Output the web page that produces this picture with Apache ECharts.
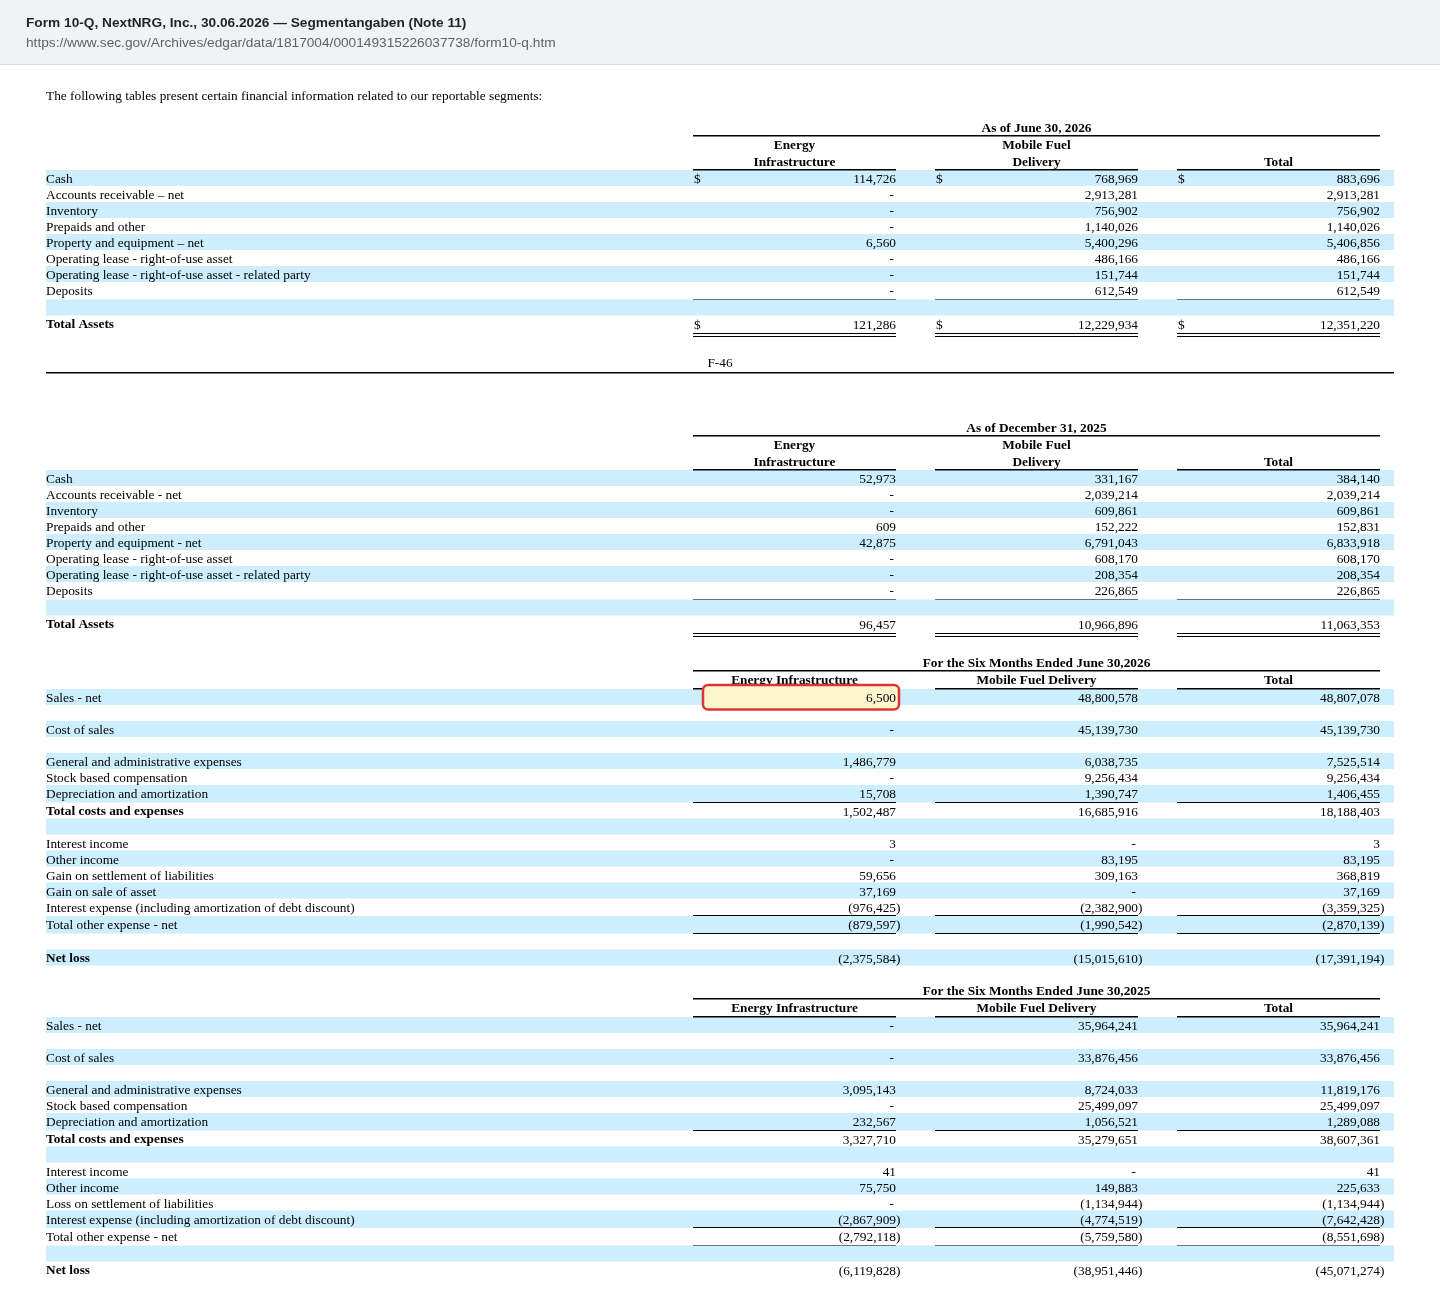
<!DOCTYPE html>
<html><head><meta charset="utf-8">
<script src="https://cdn.jsdelivr.net/npm/echarts@6/dist/echarts.min.js"></script>
<style>html,body{margin:0;padding:0;background:#fff}#c{width:1440px;height:1306px}</style>
</head><body><div id="c"></div>
<script>
// ---------- texts ----------
const docTitle = "Form 10-Q, NextNRG, Inc., 30.06.2026 \u2014 Segmentangaben (Note 11)";
const docUrl = "https://www.sec.gov/Archives/edgar/data/1817004/000149315226037738/form10-q.htm";
const introText = "The following tables present certain financial information related to our reportable segments:";
const pageFooter = "F-46";
const periods = ["As of June 30, 2026", "As of December 31, 2025", "For the Six Months Ended June 30,2026", "For the Six Months Ended June 30,2025"];
const balanceHeads = [["Energy", "Infrastructure"], ["Mobile Fuel", "Delivery"], ["Total"]];
const segmentHeads = [["Energy Infrastructure"], ["Mobile Fuel Delivery"], ["Total"]];

// ---------- balance sheet, June 30, 2026 ----------
const labelsBS2026 = ["Cash", "Accounts receivable \u2013 net", "Inventory", "Prepaids and other", "Property and equipment \u2013 net", "Operating lease - right-of-use asset", "Operating lease - right-of-use asset - related party", "Deposits", "", "Total Assets"];
const energyBS2026 = [114726, 0, 0, 0, 6560, 0, 0, 0, null, 121286];
const mobileBS2026 = [768969, 2913281, 756902, 1140026, 5400296, 486166, 151744, 612549, null, 12229934];
const totalBS2026 = [883696, 2913281, 756902, 1140026, 5406856, 486166, 151744, 612549, null, 12351220];

// ---------- balance sheet, December 31, 2025 ----------
const labelsBS2025 = ["Cash", "Accounts receivable - net", "Inventory", "Prepaids and other", "Property and equipment - net", "Operating lease - right-of-use asset", "Operating lease - right-of-use asset - related party", "Deposits", "", "Total Assets"];
const energyBS2025 = [52973, 0, 0, 609, 42875, 0, 0, 0, null, 96457];
const mobileBS2025 = [331167, 2039214, 609861, 152222, 6791043, 608170, 208354, 226865, null, 10966896];
const totalBS2025 = [384140, 2039214, 609861, 152831, 6833918, 608170, 208354, 226865, null, 11063353];

// ---------- six months ended June 30, 2026 ----------
const labelsIS2026 = ["Sales - net", "", "Cost of sales", "", "General and administrative expenses", "Stock based compensation", "Depreciation and amortization", "Total costs and expenses", "", "Interest income", "Other income", "Gain on settlement of liabilities", "Gain on sale of asset", "Interest expense (including amortization of debt discount)", "Total other expense - net", "", "Net loss"];
const energyIS2026 = [6500, null, 0, null, 1486779, 0, 15708, 1502487, null, 3, 0, 59656, 37169, -976425, -879597, null, -2375584];
const mobileIS2026 = [48800578, null, 45139730, null, 6038735, 9256434, 1390747, 16685916, null, 0, 83195, 309163, 0, -2382900, -1990542, null, -15015610];
const totalIS2026 = [48807078, null, 45139730, null, 7525514, 9256434, 1406455, 18188403, null, 3, 83195, 368819, 37169, -3359325, -2870139, null, -17391194];

// ---------- six months ended June 30, 2025 ----------
const labelsIS2025 = ["Sales - net", "", "Cost of sales", "", "General and administrative expenses", "Stock based compensation", "Depreciation and amortization", "Total costs and expenses", "", "Interest income", "Other income", "Loss on settlement of liabilities", "Interest expense (including amortization of debt discount)", "Total other expense - net", "", "Net loss"];
const energyIS2025 = [0, null, 0, null, 3095143, 0, 232567, 3327710, null, 41, 75750, 0, -2867909, -2792118, null, -6119828];
const mobileIS2025 = [35964241, null, 33876456, null, 8724033, 25499097, 1056521, 35279651, null, 0, 149883, -1134944, -4774519, -5759580, null, -38951446];
const totalIS2025 = [35964241, null, 33876456, null, 11819176, 25499097, 1289088, 38607361, null, 41, 225633, -1134944, -7642428, -8551698, null, -45071274];

// highlighted cell: [table, row, column]
const highlightCell = [2, 0, 0];

// ---------- assembled tables ----------
const tables = [
  { period: periods[0], heads: balanceHeads, labels: labelsBS2026, cols: [energyBS2026, mobileBS2026, totalBS2026] },
  { period: periods[1], heads: balanceHeads, labels: labelsBS2025, cols: [energyBS2025, mobileBS2025, totalBS2025] },
  { period: periods[2], heads: segmentHeads, labels: labelsIS2026, cols: [energyIS2026, mobileIS2026, totalIS2026] },
  { period: periods[3], heads: segmentHeads, labels: labelsIS2025, cols: [energyIS2025, mobileIS2025, totalIS2025] }
];

// ---------- layout (positions / styles) ----------
const LAYOUT = {
  left: 46, right: 1394,
  colL: [693, 935, 1177], colR: [896, 1138, 1380],
  rowH: 16, lineRowH: 17.5, doubleRowH: 22,
  shade: '#cceeff',
  serif: '"Liberation Serif", "Times New Roman", serif',
  fs: 13.33,
  dy: 1.5
};
const tableStyle = [
  { top: 127, twoLine: true, dollarRows: [0, 9], boldRows: [9], lineRows: [7], doubleRows: [9] },
  { top: 427, twoLine: true, dollarRows: [], boldRows: [9], lineRows: [7], doubleRows: [9] },
  { top: 662, twoLine: false, dollarRows: [], boldRows: [7, 16], lineRows: [6, 13, 14], doubleRows: [] },
  { top: 990, twoLine: false, dollarRows: [], boldRows: [7, 15], lineRows: [6, 12, 13], doubleRows: [] }
];
function rowsStart(t) { const s = tableStyle[t]; return s.top + (s.twoLine ? 43 : 27); }
function rowGeom(t) {
  const s = tableStyle[t];
  let y = rowsStart(t);
  const g = [];
  tables[t].labels.forEach((_, r) => {
    let h = LAYOUT.rowH;
    if (s.doubleRows.includes(r)) h = LAYOUT.doubleRowH;
    else if (s.lineRows.includes(r)) h = LAYOUT.lineRowH;
    g.push({ top: y, h: h });
    y += h;
  });
  return g;
}
const geoms = tables.map((_, t) => rowGeom(t));

function font(bold) { return (bold ? 'bold ' : '') + LAYOUT.fs + 'px ' + LAYOUT.serif; }
function txt(p, s, align, bold) {
  return {
    type: 'text', x: p[0], y: p[1] + LAYOUT.dy,
    style: { text: s, fill: '#000', font: font(bold), align: align, verticalAlign: 'middle', textAlign: align, textVerticalAlign: 'middle' }
  };
}
// crisp horizontal rule drawn as a filled rect
function hline(p1, p2, w) {
  const y = Math.round(p1[1] - w / 2);
  return { type: 'rect', shape: { x: Math.round(p1[0]), y: y, width: Math.round(p2[0] - p1[0]), height: w }, style: { fill: '#000' } };
}

// data for series
const headerData = tables.map((_, t) => [t]);
const rowData = [];
tables.forEach((tb, t) => tb.labels.forEach((_, r) => rowData.push([t, r])));

function renderHeader(params, api) {
  const t = api.value(0);
  const s = tableStyle[t], tb = tables[t];
  const C = (x, y) => api.coord([x, y]);
  const ch = [];
  ch.push(txt(C((LAYOUT.colL[0] + LAYOUT.colR[2]) / 2, s.top), tb.period, 'center', true));
  ch.push(hline(C(LAYOUT.colL[0], s.top + 9), C(LAYOUT.colR[2], s.top + 9), 1.5));
  const ul = rowsStart(t) - 0.5;
  const lastLineY = s.twoLine ? s.top + 34 : s.top + 17;
  tb.heads.forEach((lines, c) => {
    const cx = (LAYOUT.colL[c] + LAYOUT.colR[c]) / 2;
    lines.forEach((ln, i) => {
      const y = lastLineY - (lines.length - 1 - i) * 17;
      ch.push(txt(C(cx, y), ln, 'center', true));
    });
    ch.push(hline(C(LAYOUT.colL[c], ul), C(LAYOUT.colR[c], ul), 1.5));
  });
  return { type: 'group', children: ch };
}

function renderRow(params, api) {
  const t = api.value(0), r = api.value(1);
  const s = tableStyle[t], tb = tables[t], g = geoms[t][r];
  const C = (x, y) => api.coord([x, y]);
  const ch = [];
  if (r % 2 === 0) {
    const a = C(LAYOUT.left, g.top), b = C(LAYOUT.right, g.top + g.h);
    ch.push({ type: 'rect', shape: { x: a[0], y: a[1], width: b[0] - a[0], height: b[1] - a[1] }, style: { fill: LAYOUT.shade } });
  }
  const ty = g.top + 8;
  const bold = s.boldRows.includes(r);
  if (tb.labels[r]) ch.push(txt(C(LAYOUT.left, ty), tb.labels[r], 'left', bold));
  tb.cols.forEach((col, c) => {
    const v = col[r];
    if (v !== null && v !== undefined) {
      if (s.dollarRows.includes(r)) ch.push(txt(C(LAYOUT.colL[c] + 1, ty), '$', 'left', false));
      if (v === 0) ch.push(txt(C(LAYOUT.colR[c] - 2, ty), '-', 'right', false));
      else {
        const n = Math.abs(v).toLocaleString('en-US');
        if (v < 0) {
          ch.push(txt(C(LAYOUT.colR[c], ty), '(' + n, 'right', false));
          ch.push(txt(C(LAYOUT.colR[c], ty), ')', 'left', false));
        } else ch.push(txt(C(LAYOUT.colR[c], ty), n, 'right', false));
      }
    }
    if (s.lineRows.includes(r) && !s.doubleRows.includes(r)) {
      ch.push(hline(C(LAYOUT.colL[c], g.top + 17), C(LAYOUT.colR[c], g.top + 17), 1));
    }
    if (s.doubleRows.includes(r)) {
      ch.push(hline(C(LAYOUT.colL[c], g.top + 18), C(LAYOUT.colR[c], g.top + 18), 1));
      ch.push(hline(C(LAYOUT.colL[c], g.top + 21), C(LAYOUT.colR[c], g.top + 21), 1));
    }
  });
  return { type: 'group', children: ch };
}

function renderHighlight(params, api) {
  const t = api.value(0), r = api.value(1), c = api.value(2);
  const g = geoms[t][r];
  const C = (x, y) => api.coord([x, y]);
  const a = C(LAYOUT.colL[c] + 10, g.top - 4), b = C(LAYOUT.colR[c] + 3, g.top + g.h + 4.5);
  const v = tables[t].cols[c][r];
  return {
    type: 'group', children: [
      { type: 'rect', shape: { x: a[0], y: a[1], width: b[0] - a[0], height: b[1] - a[1], r: 5 },
        style: { fill: '#fdf5cc', stroke: '#dc3535', lineWidth: 2.5 } },
      txt(C(LAYOUT.colR[c], g.top + 8), Math.abs(v).toLocaleString('en-US'), 'right', false)
    ]
  };
}

const sans = '"Liberation Sans", Arial, sans-serif';
const chart = echarts.init(document.getElementById('c'), null, { renderer: 'canvas' });
chart.setOption({
  animation: false,
  backgroundColor: '#ffffff',
  grid: { left: 0, right: 0, top: 0, bottom: 0 },
  xAxis: { type: 'value', min: 0, max: 1440, show: false },
  yAxis: { type: 'value', min: 0, max: 1306, inverse: true, show: false },
  graphic: [
    { type: 'rect', left: 0, top: 0, shape: { width: 1440, height: 64 }, style: { fill: '#f1f2f4' }, z: 0 },
    { type: 'rect', left: 0, top: 64, shape: { width: 1440, height: 1 }, style: { fill: '#d8dbe0' }, z: 0 },
    { type: 'text', x: 26, y: 23, style: { text: docTitle, fill: '#1f2328', font: 'bold 13.7px ' + sans, textVerticalAlign: 'middle', verticalAlign: 'middle' }, z: 1 },
    { type: 'text', x: 26, y: 43, style: { text: docUrl, fill: '#5f6368', font: '13.7px ' + sans, textVerticalAlign: 'middle', verticalAlign: 'middle' }, z: 1 },
    { type: 'text', x: 46, y: 95 + LAYOUT.dy, style: { text: introText, fill: '#000', font: font(false), textVerticalAlign: 'middle', verticalAlign: 'middle' }, z: 1 },
    { type: 'text', x: 720, y: 362 + LAYOUT.dy, style: { text: pageFooter, fill: '#000', font: font(false), textAlign: 'center', align: 'center', textVerticalAlign: 'middle', verticalAlign: 'middle' }, z: 1 },
    { type: 'rect', left: 46, top: 372, shape: { width: 1348, height: 1.5 }, style: { fill: '#000' }, z: 1 }
  ],
  series: [
    { type: 'custom', name: 'headers', renderItem: renderHeader, data: headerData, z: 3, silent: true },
    { type: 'custom', name: 'rows', renderItem: renderRow, data: rowData, z: 2, silent: true },
    { type: 'custom', name: 'highlight', renderItem: renderHighlight, data: [highlightCell], z: 5, silent: true }
  ]
});
</script></body></html>
